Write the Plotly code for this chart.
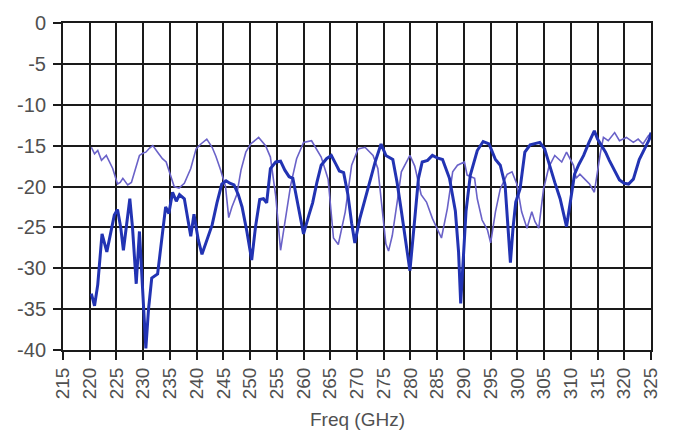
import plotly.graph_objects as go

# Thick (dark blue) trace
freq_a = [220.3, 220.9, 221.5, 222.3, 223.2, 224.0, 224.6, 225.2, 225.8, 226.3, 227.0, 227.5,
          228.0, 228.7, 229.3, 229.9, 230.5, 231.0, 231.6, 232.7, 233.5, 234.2, 234.8, 235.5,
          236.2, 236.8, 237.7, 238.4, 238.9, 239.5, 240.3, 241.0, 242.0, 242.9, 243.8, 244.7,
          245.5, 246.2, 247.0, 247.8, 248.5, 249.4, 250.3, 251.0, 251.8, 252.5, 253.1, 253.8,
          254.8, 255.7, 256.5, 257.3, 258.0, 259.0, 260.0, 261.0, 261.7, 262.5, 263.3, 264.3,
          265.2, 266.0, 266.7, 267.5, 268.3, 269.0, 269.6, 270.5, 271.5, 272.5, 273.4, 274.5,
          275.4, 276.7, 277.5, 278.3, 279.2, 279.9, 280.8, 281.5, 282.2, 283.2, 284.1, 285.0,
          286.0, 287.3, 288.4, 289.0, 289.4, 290.0, 290.4, 291.2, 292.5, 293.6, 294.7, 295.9,
          296.8, 297.7, 298.3, 298.7, 299.2, 299.7, 300.5, 301.4, 302.4, 303.4, 304.2, 305.1,
          306.0, 307.0, 308.0, 308.7, 309.2, 310.0, 310.7, 311.5, 312.4, 313.4, 314.4, 315.0,
          315.7, 316.5, 317.2, 318.2, 319.1, 320.0, 320.8, 321.7, 322.8, 324.1, 324.7, 325.0]
s11_a = [-33.1, -34.6, -32.0, -25.8, -28.0, -25.5, -23.5, -22.8, -25.0, -27.8, -24.0, -21.5,
         -25.0, -31.9, -25.5, -32.0, -39.8, -35.0, -31.2, -30.7, -26.0, -22.5, -23.3, -20.7,
         -21.8, -21.0, -21.5, -24.0, -26.1, -23.4, -26.5, -28.3, -26.5, -24.7, -22.0, -19.7,
         -19.3, -19.6, -19.8, -21.0, -22.5, -25.5, -29.0, -25.0, -21.6, -21.5, -22.0, -17.8,
         -17.0, -16.9, -18.0, -18.8, -19.0, -22.5, -25.8, -23.5, -22.0, -19.5, -17.4, -16.6,
         -16.2, -17.2, -18.1, -18.3, -21.0, -24.5, -26.9, -24.0, -21.5, -19.0, -17.0, -14.8,
         -16.2, -16.7, -19.5, -23.0, -27.0, -30.3, -24.0, -19.0, -17.0, -16.8, -16.2, -16.5,
         -16.7, -19.0, -23.0, -28.0, -34.3, -28.0, -23.0, -18.6, -15.6, -14.5, -14.8, -16.7,
         -17.4, -19.8, -25.0, -29.3, -25.0, -21.9, -20.3, -15.8, -14.9, -14.7, -14.6, -15.4,
         -17.5, -19.5, -21.5, -23.5, -24.9, -21.5, -18.5, -17.3, -16.2, -14.6, -13.2, -14.2,
         -15.0, -15.8, -16.8, -18.0, -19.2, -19.6, -19.7, -19.1, -16.7, -15.0, -14.2, -13.4]

# Thin (lighter violet-blue) trace
freq_b = [220.3, 220.9, 221.5, 222.2, 223.1, 223.6, 224.3, 225.2, 225.7, 226.2, 227.1, 227.8,
          228.5, 229.3, 230.0, 230.5, 231.2, 231.8, 232.7, 233.6, 234.3, 234.9, 235.8, 236.7,
          237.7, 238.9, 239.5, 239.9, 240.8, 241.9, 242.9, 243.6, 244.5, 245.4, 246.0, 246.6,
          247.5, 248.3, 249.2, 250.1, 251.6, 252.9, 253.8, 254.8, 255.7, 256.6, 257.6, 258.7,
          260.0, 261.5, 262.4, 263.3, 264.6, 265.6, 266.5, 267.8, 269.0, 270.2, 271.5, 273.0,
          273.9, 274.9, 275.4, 275.9, 276.6, 277.6, 278.3, 279.9, 280.8, 282.0, 283.0, 284.1,
          285.0, 285.8, 286.9, 287.9, 288.8, 290.1, 290.6, 292.0, 292.5, 293.4, 294.4, 295.0,
          295.9, 296.8, 298.1, 299.0, 299.9, 300.8, 301.8, 302.7, 303.3, 304.0, 304.9, 305.9,
          307.0, 308.3, 309.2, 310.5, 311.0, 311.7, 312.6, 313.5, 314.4, 315.0, 315.5, 316.1,
          317.0, 318.2, 319.1, 320.4, 321.7, 322.6, 323.5, 324.5, 325.0]
s11_b = [-15.2, -16.0, -15.6, -16.8, -16.2, -16.8, -17.8, -19.7, -19.5, -19.0, -19.8, -19.5,
         -18.0, -16.2, -15.9, -15.8, -15.3, -15.0, -15.8, -16.6, -17.0, -18.2, -20.0, -20.2,
         -19.6, -17.8, -16.2, -15.4, -14.8, -14.2, -15.2, -16.3, -18.0, -20.0, -23.8, -22.5,
         -21.0, -18.0, -15.8, -14.8, -14.0, -15.0, -16.4, -21.2, -27.8, -23.9, -19.8, -16.6,
         -14.6, -14.4, -15.4, -16.4, -19.1, -26.3, -27.1, -23.1, -17.4, -15.4, -15.2, -16.2,
         -17.8, -23.5, -27.0, -27.9, -26.0, -21.5, -18.2, -16.2, -17.5, -21.0, -21.9, -23.9,
         -25.2, -26.3, -22.7, -18.2, -17.4, -17.0, -18.6, -19.0, -21.5, -24.1, -25.3, -26.9,
         -23.1, -20.3, -18.5, -18.2, -19.7, -23.1, -25.1, -23.1, -24.3, -25.1, -20.3, -17.6,
         -16.2, -17.0, -15.8, -17.4, -19.0, -18.5, -19.1, -19.7, -20.7, -18.0, -16.0, -14.0,
         -14.4, -13.4, -14.4, -14.0, -14.6, -14.2, -14.8, -13.8, -13.5]

x_ticks = list(range(215, 326, 5))
y_ticks = [0, -5, -10, -15, -20, -25, -30, -35, -40]
y_labels = ["0", "-5", "-10", "-15", "-20", "-25", "-30", "-35", "-40"]
x_title = "Freq (GHz)"

fig = go.Figure()
fig.add_trace(go.Scatter(x=freq_b, y=s11_b, mode="lines",
                         line=dict(color="#6a62c8", width=1.6), showlegend=False))
fig.add_trace(go.Scatter(x=freq_a, y=s11_a, mode="lines",
                         line=dict(color="#2233b3", width=3), showlegend=False))

fam = "Liberation Sans, Arial, sans-serif"
x_font = dict(family=fam, size=19, color="#505050")
y_font = dict(family=fam, size=20, color="#505050")

fig.update_layout(
    width=673, height=436,
    margin=dict(l=63, r=18, t=19, b=86),
    paper_bgcolor="white", plot_bgcolor="white",
    xaxis=dict(range=[215, 325], tickvals=x_ticks, ticktext=[str(v) for v in x_ticks],
               tickangle=-90, tickfont=x_font,
               showgrid=True, gridcolor="#1a1a1a", gridwidth=2,
               showline=True, linecolor="#1a1a1a", linewidth=2, mirror=True,
               ticks="outside", ticklen=8, tickwidth=2, tickcolor="#1a1a1a",
               zeroline=False, fixedrange=True),
    yaxis=dict(range=[-40, 0], tickvals=y_ticks, ticktext=y_labels, tickfont=y_font,
               ticklabelstandoff=3,
               showgrid=True, gridcolor="#1a1a1a", gridwidth=2,
               showline=True, linecolor="#1a1a1a", linewidth=2, mirror=True,
               ticks="outside", ticklen=8, tickwidth=2, tickcolor="#1a1a1a",
               zeroline=False, fixedrange=True),
    annotations=[dict(text=x_title, x=0.5, y=-0.212, xref="paper", yref="paper",
                      xanchor="center", yanchor="middle", showarrow=False,
                      font=dict(family=fam, size=19, color="#505050"))],
)

fig.write_html("out.html", config={"displayModeBar": False})
